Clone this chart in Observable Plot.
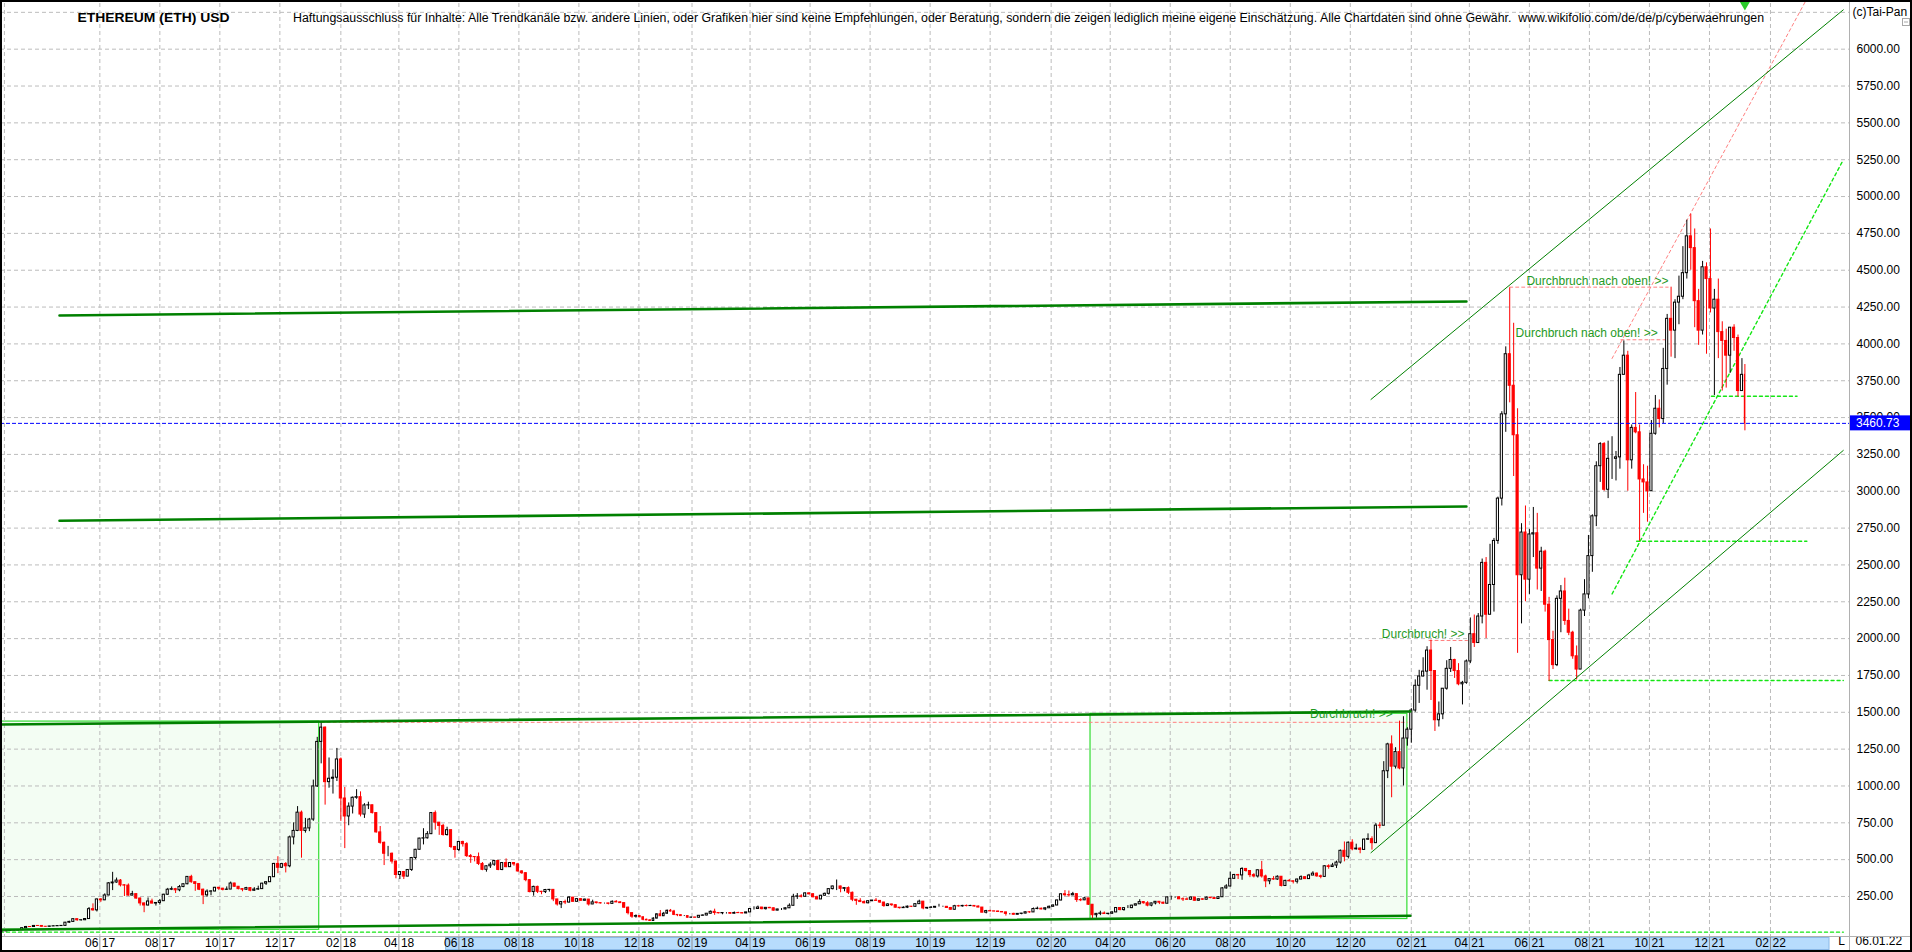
<!DOCTYPE html>
<html><head><meta charset="utf-8">
<script src="https://cdn.jsdelivr.net/npm/d3@7"></script>
<script src="https://cdn.jsdelivr.net/npm/@observablehq/plot@0.6"></script>
<style>html,body{margin:0;padding:0;background:#fff;overflow:hidden}</style>
</head><body><div id="chart"></div>
<script>
// ---------- texts ----------
const titleText = "ETHEREUM (ETH) USD";
const disclaimerText = "Haftungsausschluss für Inhalte: Alle Trendkanäle bzw. andere Linien, oder Grafiken hier sind keine Empfehlungen, oder Beratung, sondern die zeigen lediglich meine eigene Einschätzung. Alle Chartdaten sind ohne Gewähr.  www.wikifolio.com/de/de/p/cyberwaehrungen";
const copyrightText = "(c)Tai-Pan";
const lastDateLabel = "06.01.22";
const lastPrice = 3460.73;

// ---------- axis ticks ----------
const xTickDates = ["2017-06-01","2017-08-01","2017-10-01","2017-12-01","2018-02-01","2018-04-01","2018-06-01","2018-08-01","2018-10-01","2018-12-01","2019-02-01","2019-04-01","2019-06-01","2019-08-01","2019-10-01","2019-12-01","2020-02-01","2020-04-01","2020-06-01","2020-08-01","2020-10-01","2020-12-01","2021-02-01","2021-04-01","2021-06-01","2021-08-01","2021-10-01","2021-12-01","2022-02-01"];
const extraGridDates = ["2017-02-24"];
const yTicks = [250,500,750,1000,1250,1500,1750,2000,2250,2500,2750,3000,3250,3500,3750,4000,4250,4500,4750,5000,5250,5500,5750,6000];
const yGridExtra = [6250];
const scrollRange = ["2018-05-19","2022-04-02"];

// ---------- 4-day candles: [close, high, low]; open = previous close ----------
const firstDay = "2017-02-20", lastDay = "2022-01-06", firstOpen = 12.7;
const y2017 = [
[13.1,13.6,12.3],[15.5,15.8,12.9],[19.3,19.6,15.2],[19.4,20.3,17.5],[21.5,22,16.8],[35,35.7,21.3],[43,47,30],[42.9,45,39.5],[50.1,53.5,42],[50,52,47.5],
[44.6,51,42.5],[44.4,46.5,42.3],[46.7,47.5,42.7],[48,50.5,46.5],[49.4,50,47],[50.5,51,47],[72.3,74,49],[77.5,82,67],[96,97,77],[88.5,97,82],
[89,91,83],[97,98,86],[164,175,97],[156,200,150],[230,232,145],[224,235,210],[257,268,222],[339,345,255],[345,414,290],[358,375,340],
[326,365,315],[324,330,250],[256,335,253],[266,285,255],[236,267,232],[203,240,185],[189,205,140],[216,240,185],[202,232,200],[206,208,185],
[218,230,192],[262,265,218],[296,305,258],[300,315,290],[292,305,270],[314,325,282],[333,335,310],[383,385,330],[347,394,340],[335,345,285],
[296,335,290],[258,300,195],[283,295,245],[284,290,255],[309,312,282],[303,312,290],[295,305,288],[297,315,292],[338,348,297],[316,340,313],
[300,318,295],[296,303,282],[307,312,292],[289,310,282],[297,310,285],[300,320,292],[337,340,298],[347,350,325],[381,382,345],[471,475,380],
[445,520,405],[470,475,440],[455,480,410],[651,660,445],[695,750,600],[819,860,690],[695,830,510],[712,780,680],[772,780,690]];
const y2018 = [
[997,1040,760],[1299,1330,990],[1396,1432,1150],[1026,1400,870],[1049,1190,985],[1056,1110,945],[1180,1255,1030],[915,1190,760],[793,990,575],[860,885,730],
[920,925,810],[924,975,910],[806,960,790],[868,880,780],[869,890,840],[816,870,810],[685,815,680],[614,725,605],[540,620,460],[540,590,520],
[487,545,470],[396,490,370],[416,420,365],[385,420,365],[430,432,384],[511,515,420],[567,570,500],[643,645,565],[645,710,600],[673,690,640],
[816,820,670],[751,830,700],[729,750,665],[667,740,660],[700,720,660],[586,700,575],[566,590,510],[620,625,555],[605,625,585],[524,615,515],
[518,535,475],[517,520,485],[471,545,460],[431,480,425],[455,458,415],[466,480,440],[491,495,455],[430,495,425],[477,480,425],[449,505,445],
[477,480,450],[468,480,455],[420,475,415],[408,425,400],[361,412,350],[280,365,275],[315,320,252],[282,320,270],[280,285,262],[294,298,270],
[295,298,280],[230,295,215],[196,230,185],[212,215,168],[209,225,195],[242,250,205],[214,245,212],[232,236,212],[221,235,218],[229,232,218],
[196,230,185],[210,225,195],[205,210,200],[203,208,199],[203,205,199],[200,204,193],[214,220,198],[210,222,208],[205,215,204],[174,206,170],
[137,178,125],[113,138,102],[117,125,103],[109,120,106],[92,110,85],[88,96,86],[84,93,82],[100,105,83],[129,132,98],[116,155,115],
[133,142,114]];
const y2019 = [
[153,158,130],[148,162,145],[125,156,120],[123,128,113],[117,126,115],[117,120,114],[106,118,103],[107,110,102],[106,110,104],[119,120,102],
[121,125,117],[133,135,119],[146,152,132],[138,164,122],[136,140,132],[138,140,126],[138,140,131],[133,138,131],[138,145,131],[137,143,135],
[135,139,132],[142,143,133],[165,168,140],[165,180,158],[175,185,170],[164,176,160],[173,175,158],[170,176,168],[154,172,150],[162,163,153],
[162,168,155],[170,173,160],[187,200,168],[248,265,185],[251,270,230],[248,262,240],[271,275,244],[265,275,260],[245,270,240],[230,252,228],
[255,258,230],[268,273,253],[300,302,260],[318,320,295],[318,362,290],[302,320,275],[307,310,282],[275,315,263],[228,280,215],[220,230,190],
[212,235,210],[204,220,200],[218,220,200],[222,225,215],[220,236,218],[209,222,203],[185,210,177],[196,202,182],[191,197,183],[174,193,172],
[171,175,165],[174,180,170],[181,185,168],[180,182,175],[198,199,178],[215,225,196],[169,212,160],[173,175,162],[174,182,170],[180,182,171],
[180,197,178],[180,184,177],[172,182,170],[160,176,158],[184,190,157],[183,190,178],[186,190,178],[185,192,180],[186,190,183],[182,188,179],
[175,185,174],[140,175,140],[151,156,132],[149,157,147],[148,150,145],[145,151,144],[142,146,141],[132,144,117],[132,134,125],[126,136,124],
[132,134,125],[134,135,126]];
const y2020 = [
[143,145,133],[142,147,136],[165,172,142],[167,178,160],[162,171,160],[170,172,154],[180,185,169],[189,193,180],[223,226,188],[265,268,220],
[259,290,250],[258,287,245],[266,278,255],[226,267,210],[224,235,215],[237,245,222],[194,237,190],[123,194,90],[132,135,103],[135,150,120],
[131,145,129],[133,135,124],[142,146,129],[172,174,140],[158,175,153],[171,173,150],[171,188,168],[188,190,168],[197,199,186],[212,228,196],
[204,215,198],[188,215,180],[203,205,180],[214,216,193],[208,216,195],[201,211,198],[244,247,200],[244,252,225],[244,248,238],[231,250,229],
[230,240,216],[228,240,225],[243,246,226],[221,245,218],[231,233,219],[228,233,224],[242,247,227],[239,244,235],[233,242,231],[245,247,232],
[305,310,245],[318,330,300],[370,415,315],[396,400,365],[393,400,365],[437,445,360],[423,440,415],[395,425,378],[386,405,376],[428,430,375],
[386,488,375],[353,395,310],[368,370,330],[365,385,360],[384,390,360],[321,385,315],[356,360,318],[353,365,350],[350,355,335],[365,368,335],
[381,390,363],[368,382,365],[392,400,366],[405,418,400],[387,410,380],[383,395,370],[455,460,380],[450,465,435],[460,475,450],[480,490,440],
[560,565,470],[519,620,485],[615,620,505],[570,635,560],[575,605,565],[566,580,540],[636,640,566],[639,675,630],[612,655,565],[731,745,610],
[730,750,710]];
const y2021 = [
[1100,1165,890],[1282,1290,1050],[1131,1340,920],[1230,1260,1115],[1119,1440,1110],[1322,1470,1000],[1382,1395,1270],[1512,1525,1290],[1680,1720,1500],[1743,1785,1560],
[1776,1870,1740],[1919,1945,1650],[1780,1990,1580],[1446,1620,1370],[1486,1570,1400],[1660,1660,1450],[1795,1850,1650],[1855,1940,1770],[1780,1860,1730],[1690,1830,1680],
[1700,1710,1550],[1845,1855,1690],[2030,2140,1830],[1970,2160,1940],[2150,2170,1970],[2514,2540,2100],[2162,2550,2000],[2364,2640,2170],[2663,2680,2180],[2950,2960,2640],
[3522,3540,2900],[3930,3980,3400],[3716,4380,3600],[3380,4140,3100],[2430,3560,1900],[2720,2780,2100],[2400,2900,2250],[2707,2740,2300],[2715,2890,2550],[2475,2850,2330],
[2590,2620,2320],[2230,2600,2180],[1990,2280,1710],[1820,2050,1790],[2270,2290,1810],[2320,2360,2040],[2120,2410,2090],[2040,2200,2020],[1880,2050,1860],[1790,1950,1720],
[2190,2200,1790],[2300,2400,2150],[2560,2700,2270],[2830,2840,2450],[3170,3200,2760],[3320,3330,3060],[3010,3330,3000],[3220,3340,2950],[3220,3370,3080],[3230,3270,3070],
[3790,3840,3150],[3920,4020,3830],[3210,3950,3000],[3430,3450,3150],[3400,3670,3390],[3080,3450,2660],[3060,3180,2850],[3000,3170,2790],[3390,3480,3000],[3560,3650,3380],
[3490,3620,3430],[3830,3970,3460],[4170,4200,3720],[4090,4385,3910],[4280,4300,3900],[4320,4460,4130],[4480,4660,4300],[4730,4840,4440],[4650,4880,4500],[4290,4780,4110],
[4090,4370,3990],[4520,4560,4060],[4440,4550,3930],[4240,4780,4210],[4300,4370,3650],[4080,4440,3900],[4020,4150,3680],[3920,4100,3700],[4110,4110,3800],[4040,4130,3950],
[3680,4060,3640]];
const y2022 = [[3790,3900,3680],[3460.73,3860,3410]];

// ---------- drawn annotations ----------
const resistTop    = [["2017-04-21",4193],["2021-03-29",4288]];
const resistMid    = [["2017-04-21",2800],["2021-03-29",2897]];
const rangeTop     = [["2017-02-20",1417],["2021-01-31",1505]];
const rangeBottom  = [["2017-02-20",24],["2021-01-31",119]];
const channelUpper = [["2020-12-22",3623],["2022-04-16",6267]];
const channelLower = [["2020-12-22",547],["2022-04-16",3277]];
const redDashed = [
  [["2018-01-12",1432],["2021-01-28",1432]],
  [["2021-02-19",1987],["2021-03-30",1987]],
  [["2021-05-12",4385],["2021-10-20",4385]],
  [["2021-09-02",4028],["2021-10-17",4028]],
  [["2021-08-24",3901],["2022-03-09",6330]]
];
const limeDashed = [
  [["2017-02-20",8],["2022-04-16",8]],
  [["2021-06-21",1716],["2022-04-16",1716]],
  [["2021-09-18",2661],["2022-03-10",2661]],
  [["2021-12-03",3645],["2022-02-28",3645]],
  [["2021-08-24",2303],["2022-04-16",5249]]
];
const rangeBoxes = [
  {x1:"2017-02-20", x2:"2018-01-10", y1:24, y2:1437},
  {x1:"2020-03-12", x2:"2021-01-28", y1:97, y2:1490}
];
const notes = [
  {date:"2021-05-29", value:4425, text:"Durchbruch nach oben! >>"},
  {date:"2021-05-18", value:4073, text:"Durchbruch nach oben! >>"},
  {date:"2021-01-02", value:2033, text:"Durchbruch! >>"},
  {date:"2020-10-21", value:1490, text:"Durchbruch! >>"}
];

// ---------- build ----------
const DAY = 864e5;
const D = s => new Date(s + "T00:00:00Z");
const rows = [...y2017, ...y2018, ...y2019, ...y2020, ...y2021, ...y2022];
const tStart = D(firstDay).getTime(), tEnd = D(lastDay).getTime() + DAY;
const candles = rows.map(([close, high, low], i) => {
  const a = tStart + i * 4 * DAY, b = Math.min(a + 4 * DAY, tEnd);
  const open = i ? rows[i - 1][0] : firstOpen;
  return {start: new Date(a), end: new Date(b), mid: new Date((a + b) / 2), open, close, high, low, up: close >= open};
});
const up = candles.filter(d => d.up), down = candles.filter(d => !d.up);
const seg = (pts, o) => Plot.line(pts, {x: d => D(d[0]), y: d => d[1], ...o});

const FONT = "'Liberation Sans', Arial, Helvetica, sans-serif";
const W = 1912, H = 952, MR = 63, MB = 16, MT = 3;

const plot = Plot.plot({
  width: W, height: H, marginLeft: 0, marginRight: MR, marginTop: MT, marginBottom: MB,
  style: {fontFamily: FONT, fontSize: "12px", background: "#fff", overflow: "visible"},
  x: {type: "utc", domain: [D("2017-02-20"), D("2018-12-01"), D("2019-02-01"), D("2022-04-22")], range: [0, 638.4, 691.5, 1848.7], label: null},
  y: {domain: [-21.5, 6310], label: null},
  marks: [
    Plot.rect(rangeBoxes, {x1: d => D(d.x1), x2: d => D(d.x2), y1: "y1", y2: "y2", fill: "#f3fdf3", stroke: "#33dd33", strokeWidth: 1.2}),
    Plot.gridY([...yTicks, ...yGridExtra], {stroke: "#bcbcbc", strokeOpacity: 1, strokeDasharray: "4,3"}),
    Plot.gridX([...extraGridDates, ...xTickDates].map(D), {stroke: "#bcbcbc", strokeOpacity: 1, strokeDasharray: "4,3"}),
    ...redDashed.map(s => seg(s, {stroke: "#ff7f7f", strokeWidth: 1, strokeDasharray: "3,3"})),
    ...limeDashed.map(s => seg(s, {stroke: "#14e614", strokeWidth: 1.4, strokeDasharray: "3,3"})),
    Plot.ruleX(up, {x: "mid", y1: "low", y2: "high", stroke: "#000", strokeWidth: 1}),
    Plot.ruleX(down, {x: "mid", y1: "low", y2: "high", stroke: "#ff0000", strokeWidth: 1}),
    Plot.rect(up, {x1: "start", x2: "end", y1: "open", y2: "close", insetLeft: 0.9, insetRight: 0.9, fill: "#fff", stroke: "#000", strokeWidth: 1}),
    Plot.rect(down, {x1: "start", x2: "end", y1: "open", y2: "close", insetLeft: 0.9, insetRight: 0.9, fill: "#ff0000", stroke: "#ff0000", strokeWidth: 1}),
    Plot.ruleY([lastPrice], {stroke: "#0000ff", strokeWidth: 1, strokeDasharray: "4,2"}),
    seg(resistTop, {stroke: "#008000", strokeWidth: 2.6}),
    seg(resistMid, {stroke: "#008000", strokeWidth: 2.6}),
    seg(rangeTop, {stroke: "#008000", strokeWidth: 2.6}),
    seg(rangeBottom, {stroke: "#008000", strokeWidth: 2.6}),
    seg(channelUpper, {stroke: "#008000", strokeWidth: 1}),
    seg(channelLower, {stroke: "#008000", strokeWidth: 1}),
    Plot.text(notes, {x: d => D(d.date), y: "value", text: "text", textAnchor: "start", fill: "#1f9a1f", fontSize: 12}),
    Plot.dot([candles[candles.length - 1]], {x: "mid", frameAnchor: "top", symbol: "triangle", rotate: 180, r: 4.5, fill: "#2bcc2b", stroke: null}),
    Plot.axisY(yTicks, {anchor: "right", tickSize: 0, tickPadding: 7, tickFormat: d => d.toFixed(2), fill: "#000", fontSize: 12, label: null}),
    Plot.axisX(xTickDates.map(D), {anchor: "bottom", tickSize: 14, tickFormat: () => "", stroke: "#909090", label: null}),
    Plot.axisX(xTickDates.map(D), {anchor: "bottom", tickSize: 0, tickPadding: 2, tickFormat: d3.utcFormat("%m"), textAnchor: "end", dx: -1.5, fill: "#000", fontSize: 12, label: null}),
    Plot.axisX(xTickDates.map(D), {anchor: "bottom", tickSize: 0, tickPadding: 2, tickFormat: d3.utcFormat("%y"), textAnchor: "start", dx: 2, fill: "#000", fontSize: 12, label: null}),
    Plot.text([titleText], {frameAnchor: "top-left", dx: 77, dy: 9.5, text: d => d, textAnchor: "start", fontWeight: "bold", fontSize: 12, fill: "#000"}),
    Plot.text([disclaimerText], {frameAnchor: "top-left", dx: 292.5, dy: 9.5, text: d => d, textAnchor: "start", fontSize: 12, fill: "#000"}),
    Plot.text([{label: copyrightText, value: 6250}], {y: "value", text: "label", frameAnchor: "right", dx: 3, textAnchor: "start", fontSize: 12, fill: "#000"}),
    Plot.text(["L"], {frameAnchor: "bottom-right", dx: -8, dy: 8, text: d => d, textAnchor: "middle", fontSize: 12, fill: "#000"}),
    Plot.text([lastDateLabel], {frameAnchor: "bottom-right", dx: 6, dy: 8, text: d => d, textAnchor: "start", fontSize: 12, fill: "#000"})
  ]
});
document.getElementById("chart").appendChild(plot);

// ---------- chrome via the plot's own scales ----------
const svg = d3.select(plot);
const xs = plot.scale("x"), ys = plot.scale("y");
const stretch = (txt, len) => svg.selectAll("text").filter(function () { return this.textContent === txt; })
  .attr("textLength", len).attr("lengthAdjust", "spacingAndGlyphs");
stretch(titleText, 152);
stretch(disclaimerText, 1471);
const bx0 = xs.apply(D(scrollRange[0])), bx1 = xs.apply(D(scrollRange[1]));
svg.insert("rect", ":first-child").attr("x", bx0).attr("y", H - MB + 1.5).attr("width", bx1 - bx0).attr("height", MB - 4)
  .attr("fill", "#b7dcfd").attr("stroke", "#8ab8e6").attr("stroke-width", 1);
svg.append("line").attr("x1", 0).attr("x2", W).attr("y1", H - MB + 0.5).attr("y2", H - MB + 0.5).attr("stroke", "#b0b0b0");
svg.append("line").attr("x1", W - MR + 0.5).attr("x2", W - MR + 0.5).attr("y1", 0).attr("y2", H).attr("stroke", "#b0b0b0");
const py = ys.apply(lastPrice);
svg.append("rect").attr("x", W - MR + 1).attr("y", py - 7.5).attr("width", MR - 1).attr("height", 15).attr("fill", "#0000ff");
svg.append("text").attr("x", W - MR + 7).attr("y", py).attr("dy", "0.36em").attr("fill", "#fff").attr("text-anchor", "start")
  .attr("font-family", FONT).attr("font-size", 12).text(lastPrice.toFixed(2));
svg.append("rect").attr("x", W - 9.5).attr("y", 18.5).attr("width", 7).attr("height", 7).attr("fill", "#fff").attr("stroke", "#a8a8a8");
svg.append("line").attr("x1", W - 8).attr("x2", W - 4).attr("y1", 22).attr("y2", 22).attr("stroke", "#a8a8a8");
svg.append("rect").attr("x", 1).attr("y", 1).attr("width", W - 2).attr("height", H - 2).attr("fill", "none").attr("stroke", "#000").attr("stroke-width", 2);
</script>
</body></html>
